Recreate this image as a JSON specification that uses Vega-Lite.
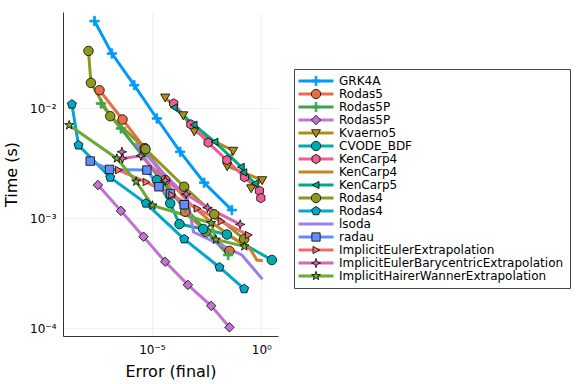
{
  "$schema": "https://vega.github.io/schema/vega-lite/v6.json",
  "width": 215,
  "height": 324,
  "autosize": "none",
  "padding": {"left": 63, "top": 12, "right": 298, "bottom": 48},
  "background": "white",
  "config": {"view": {"stroke": null}, "font": "DejaVu Sans"},
  "data": {"values": [
    {"s": "01 GRK4A", "i": 1, "x": 2.39e-8, "y": 0.0625},
    {"s": "01 GRK4A", "i": 2, "x": 1.49e-7, "y": 0.0316},
    {"s": "01 GRK4A", "i": 3, "x": 1.56e-6, "y": 0.0163},
    {"s": "01 GRK4A", "i": 4, "x": 1.69e-5, "y": 0.00811},
    {"s": "01 GRK4A", "i": 5, "x": 1.96e-4, "y": 0.00403},
    {"s": "01 GRK4A", "i": 6, "x": 2.44e-3, "y": 0.00211},
    {"s": "01 GRK4A", "i": 7, "x": 0.045, "y": 0.00119},
    {"s": "02 Rodas5", "i": 1, "x": 4.05e-8, "y": 0.01466},
    {"s": "02 Rodas5", "i": 2, "x": 4.55e-7, "y": 0.00794},
    {"s": "02 Rodas5", "i": 3, "x": 4.69e-6, "y": 0.00436},
    {"s": "02 Rodas5", "i": 4, "x": 4.05e-5, "y": 0.00223},
    {"s": "02 Rodas5", "i": 5, "x": 3.32e-4, "y": 0.00115},
    {"s": "02 Rodas5", "i": 6, "x": 2.92e-3, "y": 0.000755},
    {"s": "02 Rodas5", "i": 7, "x": 0.0349, "y": 0.000505},
    {"s": "03 Rodas5P", "i": 1, "x": 4.69e-8, "y": 0.0111},
    {"s": "03 Rodas5P", "i": 2, "x": 3.84e-7, "y": 0.00658},
    {"s": "03 Rodas5P", "i": 3, "x": 3.61e-6, "y": 0.00376},
    {"s": "03 Rodas5P", "i": 4, "x": 3.28e-5, "y": 0.00209},
    {"s": "03 Rodas5P", "i": 5, "x": 3.32e-4, "y": 0.00124},
    {"s": "03 Rodas5P", "i": 6, "x": 3.35e-3, "y": 0.00075},
    {"s": "03 Rodas5P", "i": 7, "x": 0.0305, "y": 0.000464},
    {"s": "04 Rodas5P", "i": 1, "x": 3.42e-8, "y": 0.00201},
    {"s": "04 Rodas5P", "i": 2, "x": 3.84e-7, "y": 0.00117},
    {"s": "04 Rodas5P", "i": 3, "x": 4.13e-6, "y": 0.000681},
    {"s": "04 Rodas5P", "i": 4, "x": 4.05e-5, "y": 0.000403},
    {"s": "04 Rodas5P", "i": 5, "x": 4.41e-4, "y": 0.000248},
    {"s": "04 Rodas5P", "i": 6, "x": 5.1e-3, "y": 0.00016},
    {"s": "04 Rodas5P", "i": 7, "x": 0.0349, "y": 0.000102},
    {"s": "05 Kvaerno5", "i": 1, "x": 4.05e-5, "y": 0.0126},
    {"s": "05 Kvaerno5", "i": 2, "x": 2.69e-4, "y": 0.00869},
    {"s": "05 Kvaerno5", "i": 3, "x": 8.55e-4, "y": 0.00622},
    {"s": "05 Kvaerno5", "i": 4, "x": 0.0515, "y": 0.00413},
    {"s": "05 Kvaerno5", "i": 5, "x": 0.0274, "y": 0.00299},
    {"s": "05 Kvaerno5", "i": 6, "x": 1.09, "y": 0.00223},
    {"s": "05 Kvaerno5", "i": 7, "x": 0.342, "y": 0.00188},
    {"s": "06 CVODE_BDF", "i": 1, "x": 1.69e-5, "y": 0.00223},
    {"s": "06 CVODE_BDF", "i": 2, "x": 6.85e-5, "y": 0.00137},
    {"s": "06 CVODE_BDF", "i": 3, "x": 1.82e-4, "y": 0.000887},
    {"s": "06 CVODE_BDF", "i": 4, "x": 2.2e-3, "y": 0.0008},
    {"s": "06 CVODE_BDF", "i": 5, "x": 0.0266, "y": 0.000713},
    {"s": "06 CVODE_BDF", "i": 6, "x": 3.01, "y": 0.000418},
    {"s": "07 KenCarp4", "i": 1, "x": 9.89e-5, "y": 0.0111},
    {"s": "07 KenCarp4", "i": 2, "x": 6.04e-4, "y": 0.00716},
    {"s": "07 KenCarp4", "i": 3, "x": 3.72e-3, "y": 0.00489},
    {"s": "07 KenCarp4", "i": 4, "x": 0.0266, "y": 0.00339},
    {"s": "07 KenCarp4", "i": 5, "x": 0.169, "y": 0.00237},
    {"s": "07 KenCarp4", "i": 6, "x": 0.818, "y": 0.00178},
    {"s": "07 KenCarp4", "i": 7, "x": 0.948, "y": 0.00153},
    {"s": "08 KenCarp4", "i": 1, "x": 5.5e-6, "y": 0.00401},
    {"s": "08 KenCarp4", "i": 2, "x": 5.0e-5, "y": 0.00232},
    {"s": "08 KenCarp4", "i": 3, "x": 5.05e-4, "y": 0.00138},
    {"s": "08 KenCarp4", "i": 4, "x": 5.1e-3, "y": 0.000925},
    {"s": "08 KenCarp4", "i": 5, "x": 0.0515, "y": 0.000662},
    {"s": "08 KenCarp4", "i": 6, "x": 0.308, "y": 0.000526},
    {"s": "08 KenCarp4", "i": 7, "x": 0.624, "y": 0.000418},
    {"s": "08 KenCarp4", "i": 8, "x": 1.17, "y": 0.000412},
    {"s": "09 KenCarp5", "i": 1, "x": 1.04e-4, "y": 0.0102},
    {"s": "09 KenCarp5", "i": 2, "x": 8.36e-4, "y": 0.0071},
    {"s": "09 KenCarp5", "i": 3, "x": 7.53e-3, "y": 0.00497},
    {"s": "09 KenCarp5", "i": 4, "x": 0.12, "y": 0.00294},
    {"s": "09 KenCarp5", "i": 5, "x": 0.156, "y": 0.00262},
    {"s": "09 KenCarp5", "i": 6, "x": 0.521, "y": 0.00208},
    {"s": "10 Rodas4", "i": 1, "x": 1.27e-8, "y": 0.0334},
    {"s": "10 Rodas4", "i": 2, "x": 1.64e-8, "y": 0.0171},
    {"s": "10 Rodas4", "i": 3, "x": 1.25e-7, "y": 0.00851},
    {"s": "10 Rodas4", "i": 4, "x": 5.1e-6, "y": 0.00427},
    {"s": "10 Rodas4", "i": 5, "x": 2.99e-4, "y": 0.00194},
    {"s": "10 Rodas4", "i": 6, "x": 7.0e-3, "y": 0.00109},
    {"s": "10 Rodas4", "i": 7, "x": 0.164, "y": 0.000648},
    {"s": "11 Rodas4", "i": 1, "x": 2.22e-9, "y": 0.0109},
    {"s": "11 Rodas4", "i": 2, "x": 4.45e-9, "y": 0.00463},
    {"s": "11 Rodas4", "i": 3, "x": 1.25e-7, "y": 0.00236},
    {"s": "11 Rodas4", "i": 4, "x": 5.32e-6, "y": 0.00137},
    {"s": "11 Rodas4", "i": 5, "x": 2.99e-4, "y": 0.000648},
    {"s": "11 Rodas4", "i": 6, "x": 0.0122, "y": 0.000359},
    {"s": "11 Rodas4", "i": 7, "x": 0.164, "y": 0.000228},
    {"s": "12 lsoda", "i": 1, "x": 1.73e-6, "y": 0.00484},
    {"s": "12 lsoda", "i": 2, "x": 2.95e-5, "y": 0.00264},
    {"s": "12 lsoda", "i": 3, "x": 4.09e-4, "y": 0.00156},
    {"s": "12 lsoda", "i": 4, "x": 7.94e-4, "y": 0.00075},
    {"s": "12 lsoda", "i": 5, "x": 0.129, "y": 0.000464},
    {"s": "12 lsoda", "i": 6, "x": 1.12, "y": 0.000279},
    {"s": "13 radau", "i": 1, "x": 1.52e-8, "y": 0.00332},
    {"s": "13 radau", "i": 2, "x": 1.16e-7, "y": 0.00279},
    {"s": "13 radau", "i": 3, "x": 5.92e-6, "y": 0.00275},
    {"s": "13 radau", "i": 4, "x": 2.09e-5, "y": 0.00194},
    {"s": "13 radau", "i": 5, "x": 7.06e-5, "y": 0.00168},
    {"s": "13 radau", "i": 6, "x": 2.99e-4, "y": 0.00133},
    {"s": "14 ImplicitEulerExtrapolation", "i": 1, "x": 2.99e-7, "y": 0.00275},
    {"s": "14 ImplicitEulerExtrapolation", "i": 2, "x": 5.5e-6, "y": 0.00214},
    {"s": "14 ImplicitEulerExtrapolation", "i": 3, "x": 8.19e-5, "y": 0.00163},
    {"s": "14 ImplicitEulerExtrapolation", "i": 4, "x": 1.17e-3, "y": 0.00123},
    {"s": "14 ImplicitEulerExtrapolation", "i": 5, "x": 0.0146, "y": 0.000939},
    {"s": "14 ImplicitEulerExtrapolation", "i": 6, "x": 0.258, "y": 0.000705},
    {"s": "15 ImplicitEulerBarycentricExtrapolation", "i": 1, "x": 4.27e-7, "y": 0.00403},
    {"s": "15 ImplicitEulerBarycentricExtrapolation", "i": 2, "x": 4.55e-7, "y": 0.00351},
    {"s": "15 ImplicitEulerBarycentricExtrapolation", "i": 3, "x": 3.15e-6, "y": 0.00371},
    {"s": "15 ImplicitEulerBarycentricExtrapolation", "i": 4, "x": 4.05e-5, "y": 0.00221},
    {"s": "15 ImplicitEulerBarycentricExtrapolation", "i": 5, "x": 3.68e-4, "y": 0.00166},
    {"s": "15 ImplicitEulerBarycentricExtrapolation", "i": 6, "x": 3.46e-3, "y": 0.00125},
    {"s": "15 ImplicitEulerBarycentricExtrapolation", "i": 7, "x": 0.108, "y": 0.000881},
    {"s": "16 ImplicitHairerWannerExtrapolation", "i": 1, "x": 1.67e-9, "y": 0.00705},
    {"s": "16 ImplicitHairerWannerExtrapolation", "i": 2, "x": 2.52e-7, "y": 0.00351},
    {"s": "16 ImplicitHairerWannerExtrapolation", "i": 3, "x": 1.92e-6, "y": 0.00216},
    {"s": "16 ImplicitHairerWannerExtrapolation", "i": 4, "x": 1.06e-5, "y": 0.00131},
    {"s": "16 ImplicitHairerWannerExtrapolation", "i": 5, "x": 5.1e-3, "y": 0.000906},
    {"s": "16 ImplicitHairerWannerExtrapolation", "i": 6, "x": 8.36e-3, "y": 0.000641},
    {"s": "16 ImplicitHairerWannerExtrapolation", "i": 7, "x": 0.167, "y": 0.000556}
  ]},
  "encoding": {
    "x": {
      "field": "x", "type": "quantitative",
      "scale": {"type": "log", "domain": [8.7e-10, 5.75], "nice": false},
      "axis": {
        "values": [1e-5, 1],
        "labelExpr": "datum.value < 0.001 ? '10⁻⁵' : '10⁰'",
        "title": "Error (final)", "titleFontSize": 16, "titleFontWeight": "normal", "titleColor": "#000",
        "titleY": 35, "titleBaseline": "middle",
        "labelFontSize": 12, "labelColor": "#000", "labelPadding": 8, "labelFlush": false,
        "ticks": false,
        "grid": true, "gridColor": "#000", "gridOpacity": 0.1, "gridWidth": 0.5,
        "domainColor": "#333", "domainWidth": 1
      }
    },
    "y": {
      "field": "y", "type": "quantitative",
      "scale": {"type": "log", "domain": [8.5e-5, 0.0755], "nice": false},
      "axis": {
        "values": [0.0001, 0.001, 0.01],
        "labelExpr": "datum.value < 0.0005 ? '10⁻⁴' : (datum.value < 0.005 ? '10⁻³' : '10⁻²')",
        "title": "Time (s)", "titleFontSize": 16, "titleFontWeight": "normal", "titleColor": "#000",
        "titleX": -52, "titleY": 162, "titleAngle": -90, "titleAlign": "center", "titleBaseline": "middle",
        "labelFontSize": 12, "labelColor": "#000", "labelPadding": 7,
        "ticks": false,
        "grid": true, "gridColor": "#000", "gridOpacity": 0.1, "gridWidth": 0.5,
        "domainColor": "#333", "domainWidth": 1
      }
    }
  },
  "layer": [
    {
      "mark": {"type": "line", "strokeWidth": 3, "clip": true},
      "encoding": {
        "color": {
          "field": "s", "type": "nominal",
          "scale": {
            "domain": ["01 GRK4A", "02 Rodas5", "03 Rodas5P", "04 Rodas5P", "05 Kvaerno5", "06 CVODE_BDF", "07 KenCarp4", "08 KenCarp4", "09 KenCarp5", "10 Rodas4", "11 Rodas4", "12 lsoda", "13 radau", "14 ImplicitEulerExtrapolation", "15 ImplicitEulerBarycentricExtrapolation", "16 ImplicitHairerWannerExtrapolation"],
            "range": ["#009AFA", "#E36F47", "#3EA44E", "#C371D2", "#AC8D18", "#00A9AD", "#ED5E93", "#C68225", "#00A98D", "#8E971E", "#00A8CB", "#9B7FE9", "#618DF6", "#F16C6A", "#DD64B5", "#6AAA35"]
          },
          "legend": {
            "title": null, "orient": "none", "legendX": 231, "legendY": 57,
            "padding": 6, "strokeColor": "#444", "fillColor": "white", "cornerRadius": 0,
            "labelFont": "DejaVu Sans", "labelFontSize": 12, "labelColor": "#000", "labelLimit": 400,
            "labelExpr": "substring(datum.label, 3)",
            "symbolType": "M-5,0H5", "symbolSize": 49, "symbolStrokeWidth": 3,
            "symbolOffset": 10, "labelOffset": 17, "rowPadding": 1, "zindex": 0
          }
        },
        "order": {"field": "i", "type": "quantitative"}
      }
    },
    {
      "mark": {"type": "point", "filled": true, "size": 46, "strokeWidth": 0.8, "opacity": 1},
      "encoding": {
        "fill": {
          "field": "s", "type": "nominal",
          "scale": {"range": ["#009AFA", "#E36F47", "#3EA44E", "#C371D2", "#AC8D18", "#00A9AD", "#ED5E93", "#C68225", "#00A98D", "#8E971E", "#00A8CB", "#9B7FE9", "#618DF6", "#F16C6A", "#DD64B5", "#6AAA35"]},
          "legend": {
            "title": null, "orient": "none", "legendX": 231, "legendY": 57,
            "padding": 6, "strokeColor": "transparent", "fillColor": "transparent",
            "labelFont": "DejaVu Sans", "labelFontSize": 12, "labelExpr": "''", "labelLimit": 400,
            "symbolSize": 44, "symbolStrokeWidth": 0.8, "symbolOpacity": 1,
            "symbolOffset": 10, "labelOffset": 17, "rowPadding": 1, "zindex": 1,
            "encode": {"symbols": {"update": {"strokeJoin": {"value": "round"}}}}
          }
        },
        "shape": {
          "field": "s", "type": "nominal",
          "scale": {"range": [
            "M-1.4,-0.26H1.4V0.26H-1.4Z M-0.26,-1.4H0.26V1.4H-0.26Z",
            "M1.4,0L1.331,0.433L1.133,0.823L0.823,1.133L0.433,1.331L0,1.4L-0.433,1.331L-0.823,1.133L-1.133,0.823L-1.331,0.433L-1.4,0L-1.331,-0.433L-1.133,-0.823L-0.823,-1.133L-0.433,-1.331L0,-1.4L0.433,-1.331L0.823,-1.133L1.133,-0.823L1.331,-0.433Z",
            "M-1.4,-0.26H1.4V0.26H-1.4Z M-0.26,-1.4H0.26V1.4H-0.26Z",
            "M0,-1.4L1.4,0L0,1.4L-1.4,0Z",
            "M-1.35,-1.0L1.35,-1.0L0,1.35Z",
            "M1.4,0L1.331,0.433L1.133,0.823L0.823,1.133L0.433,1.331L0,1.4L-0.433,1.331L-0.823,1.133L-1.133,0.823L-1.331,0.433L-1.4,0L-1.331,-0.433L-1.133,-0.823L-0.823,-1.133L-0.433,-1.331L0,-1.4L0.433,-1.331L0.823,-1.133L1.133,-0.823L1.331,-0.433Z",
            "M0,-1.4L1.21,-0.7L1.21,0.7L0,1.4L-1.21,0.7L-1.21,-0.7Z",
            "M0,0",
            "M-1.1,0L0.9,-1.1L0.9,1.1Z",
            "M1.4,0L1.331,0.433L1.133,0.823L0.823,1.133L0.433,1.331L0,1.4L-0.433,1.331L-0.823,1.133L-1.133,0.823L-1.331,0.433L-1.4,0L-1.331,-0.433L-1.133,-0.823L-0.823,-1.133L-0.433,-1.331L0,-1.4L0.433,-1.331L0.823,-1.133L1.133,-0.823L1.331,-0.433Z",
            "M0,-1.4L1.33,-0.43L0.82,1.13L-0.82,1.13L-1.33,-0.43Z",
            "M0,0",
            "M-1.25,-1.25H1.25V1.25H-1.25Z",
            "M1.1,0L-0.9,-1.1L-0.9,1.1Z",
            "M0,-1.4L0.36,-0.36L1.4,0L0.36,0.36L0,1.4L-0.36,0.36L-1.4,0L-0.36,-0.36Z",
            "M0,-1.4L0.329,-0.453L1.332,-0.432L0.533,0.173L0.823,1.132L0,0.56L-0.823,1.132L-0.533,0.173L-1.332,-0.432L-0.329,-0.453Z"
          ]},
          "legend": {
            "title": null, "orient": "none", "legendX": 231, "legendY": 57,
            "padding": 6, "strokeColor": "transparent", "fillColor": "transparent",
            "labelFont": "DejaVu Sans", "labelFontSize": 12, "labelExpr": "''", "labelLimit": 400,
            "symbolSize": 44, "symbolStrokeWidth": 0.8, "symbolOpacity": 1,
            "symbolOffset": 10, "labelOffset": 17, "rowPadding": 1, "zindex": 1,
            "encode": {"symbols": {"update": {"strokeJoin": {"value": "round"}}}}
          }
        },
        "stroke": {
          "field": "s", "type": "nominal",
          "scale": {"range": ["#009AFA", "#000000", "#3EA44E", "#000000", "#000000", "#000000", "#000000", "#000000", "#000000", "#000000", "#000000", "#000000", "#000000", "#000000", "#000000", "#000000"]},
          "legend": {
            "title": null, "orient": "none", "legendX": 231, "legendY": 57,
            "padding": 6, "strokeColor": "transparent", "fillColor": "transparent",
            "labelFont": "DejaVu Sans", "labelFontSize": 12, "labelExpr": "''", "labelLimit": 400,
            "symbolSize": 44, "symbolStrokeWidth": 0.8, "symbolOpacity": 1,
            "symbolOffset": 10, "labelOffset": 17, "rowPadding": 1, "zindex": 1,
            "encode": {"symbols": {"update": {"strokeJoin": {"value": "round"}}}}
          }
        }
      }
    }
  ]
}
